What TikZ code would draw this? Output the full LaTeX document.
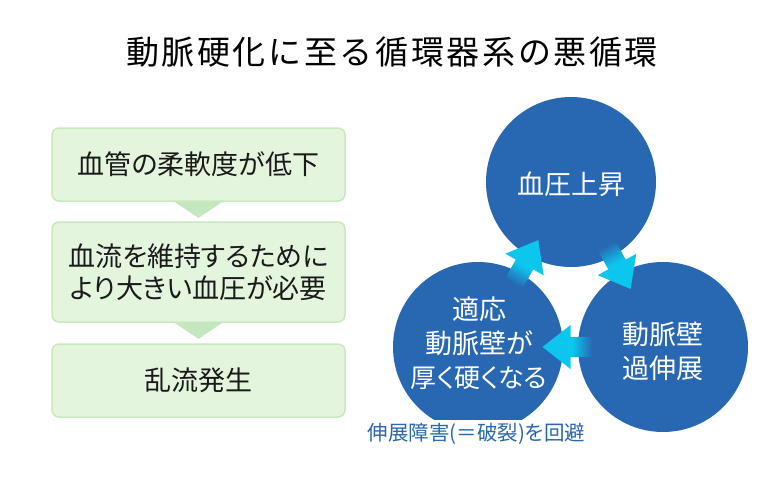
\documentclass[tikz,border=0pt]{standalone}
\usepackage{fontspec}
\usetikzlibrary{calc}
\newfontfamily\jppfont{Noto Sans CJK JP}[RawFeature={+palt}]
\newfontfamily\jptitle{Noto Sans CJK JP}[LetterSpace=8]
\definecolor{circBlue}{HTML}{2867B1}
\definecolor{arrowCyan}{HTML}{0CC6EE}
\definecolor{boxFill}{HTML}{E3F5DD}
\definecolor{boxLine}{HTML}{C8E9C0}
\definecolor{triFill}{HTML}{C5E7BD}
\definecolor{textDark}{HTML}{1A1A1A}
\pgfdeclarehorizontalshading{arrowshade}{100bp}{color(0bp)=(circBlue); color(25bp)=(circBlue); color(45bp)=(arrowCyan); color(100bp)=(arrowCyan)}
\begin{document}
\begin{tikzpicture}[x=1pt,y=-1pt,
  gbox/.style={draw=boxLine, line width=1.5pt, fill=boxFill, rounded corners=7pt,
    minimum width=293pt, inner sep=0pt, text=textDark,
    font=\jppfont\fontsize{27}{32}\selectfont, align=center},
  circ/.style={circle, fill=circBlue, minimum size=170pt, inner sep=0pt},
  circtext/.style={text=white, inner sep=0pt, align=center,
    font=\jppfont\fontsize{27}{34}\selectfont},
  tri/.style={fill=triFill},
  flow/.style={shading=arrowshade},
  caption/.style={fill=white, inner xsep=2pt, inner ysep=3pt, text=circBlue,
    font=\jppfont\fontsize{20.5}{24}\selectfont}
]
\useasboundingbox[fill=white] (0,0) rectangle (780,488);

% title
\node[font=\jptitle\fontsize{33}{38}\selectfont, text=black] (title) at (392,52) {動脈硬化に至る循環器系の悪循環};

% left flow
\node[gbox, minimum height=73pt] (b1) at (198.5,164.5) {血管の柔軟度が低下};
\node[gbox, minimum height=100pt] (b2) at (198.5,272) {血流を維持するために\\より大きい血圧が必要};
\node[gbox, minimum height=73pt] (b3) at (198.5,380.5) {乱流発生};
\fill[tri] ($(b1.south)+(-24,0)$) -- ($(b1.south)+(24,0)$) -- ($(b1.south)+(0,16)$) -- cycle;
\fill[tri] ($(b2.south)+(-24,0)$) -- ($(b2.south)+(24,0)$) -- ($(b2.south)+(0,16)$) -- cycle;

% cycle circles
\node[circ] (T) at (571,182) {};
\node[circ] (R) at (663,347) {};
\node[circ] (L) at (478,347) {};
\node[circtext] (Tt) at ($(T)+(0,2)$) {血圧上昇};
\node[circtext] (Rt) at ($(R)+(0,4)$) {動脈壁\\過伸展};
\node[circtext] (Lt) at ($(L)+(1,-4)$) {適応\\動脈壁が\\{\fontsize{26}{34}\selectfont 厚く硬くなる}};

% gradient arrows
\coordinate (m1) at ($(L)!0.5!(T)$);
\coordinate (m2) at ($(T)!0.5!(R)$);
\coordinate (m3) at ($(R)!0.5!(L)$);
\begin{scope}[transform canvas={shift={(m1)}, rotate=60.6}]
  \shade[flow] (-22,-10) -- (0,-10) -- (0,-22) -- (28,0) -- (0,22) -- (0,10) -- (-22,10) -- cycle;
\end{scope}
\begin{scope}[transform canvas={shift={(m2)}, rotate=-60.9}]
  \shade[flow] (-22,-10) -- (0,-10) -- (0,-22) -- (28,0) -- (0,22) -- (0,10) -- (-22,10) -- cycle;
\end{scope}
\begin{scope}[transform canvas={shift={(m3)}, rotate=180}]
  \shade[flow] (-22,-10) -- (0,-10) -- (0,-22) -- (28,0) -- (0,22) -- (0,10) -- (-22,10) -- cycle;
\end{scope}

% caption
\node[caption] (cap) at (476.5,434) {伸展障害(＝破裂)を回避};
\end{tikzpicture}
\end{document}
